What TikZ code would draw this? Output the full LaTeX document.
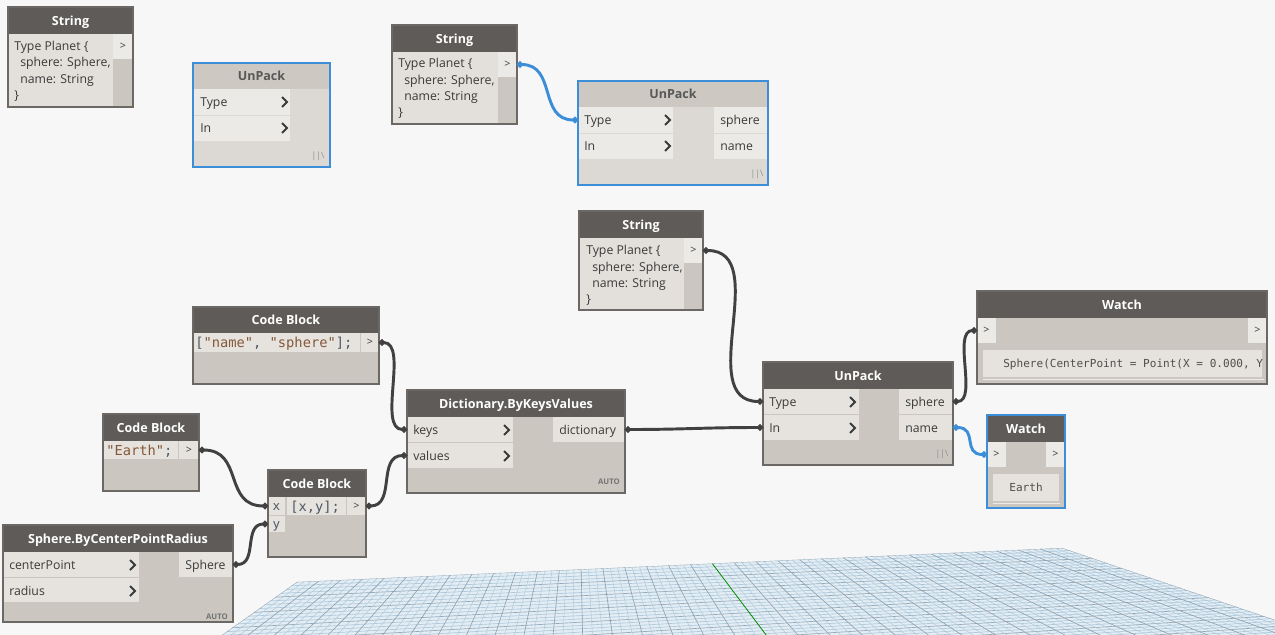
\documentclass[tikz,border=0pt]{standalone}
\usepackage{fontspec}
\setmainfont{Open Sans}
\newfontfamily\monof{DejaVu Sans Mono}
\usetikzlibrary{arrows.meta}
\definecolor{bg}{HTML}{F7F7F7}
\definecolor{hdr}{HTML}{5E5B58}
\definecolor{hdrl}{HTML}{CDC9C2}
\definecolor{body}{HTML}{CBC7C0}
\definecolor{bodyl}{HTML}{DCD9D4}
\definecolor{portl}{HTML}{E6E3DE}
\definecolor{portll}{HTML}{ECEAE6}
\definecolor{txtbg}{HTML}{E3E0DB}
\definecolor{nborder}{HTML}{6B6865}
\definecolor{selblue}{HTML}{3D8ED8}
\definecolor{wirec}{HTML}{414141}
\definecolor{lblc}{HTML}{3A3A3A}
\definecolor{strc}{HTML}{85583A}
\definecolor{punc}{HTML}{4D5966}
\definecolor{gridA}{HTML}{8A9FB0}
\definecolor{gridB}{HTML}{ADCADD}
\definecolor{gridC}{HTML}{93AABB}
\definecolor{gridF}{HTML}{E4EDF3}
\newcommand{\nbox}[6]{\node[#6,anchor=north west,minimum width={(#4-(#2))*0.75pt},minimum height={(#5-(#3))*0.75pt},inner sep=0pt,outer sep=0pt,draw=none] (#1) at (#2,#3) {};}
\newcommand{\chevr}[2]{\draw[chevron] (#1-3,#2-5) -- (#1+2,#2) -- (#1-3,#2+5);}
\newcommand{\nframe}[2]{\draw[#2] (#1.north west) rectangle (#1.south east);}
\tikzset{
  nb/.style={draw=nborder,line width=0.9pt},
  selb/.style={draw=selblue,line width=1.8pt},
  ttl/.style={text=white,font=\bfseries\fontsize{9.4}{10}\selectfont,inner sep=0pt,text height=6.8pt,text depth=0pt},
  ttll/.style={text=lblc!85,font=\bfseries\fontsize{9.4}{10}\selectfont,inner sep=0pt,text height=6.8pt,text depth=0pt},
  lbl/.style={text=lblc,font=\fontsize{9.2}{11}\selectfont,inner sep=0pt,text height=6.6pt,text depth=0pt,anchor=west},
  code/.style={text=punc,font=\monof\fontsize{10.3}{11}\selectfont,inner sep=0pt,text height=7.3pt,text depth=0pt,anchor=west},
  wtxt/.style={text=lblc!90,font=\monof\fontsize{8.3}{10}\selectfont,inner sep=0pt,text height=6pt,text depth=0pt},
  gt/.style={text=lblc,font=\fontsize{8}{9}\selectfont,inner sep=0pt,text height=5pt,text depth=0pt},
  auto/.style={text=black!55,font=\bfseries\fontsize{5.8}{7}\selectfont,inner sep=0pt,text height=4.2pt,text depth=0pt,anchor=east},
  lace/.style={text=black!45,font=\fontsize{6.5}{7}\selectfont,inner sep=0pt,text height=4.8pt,text depth=0pt},
  chevron/.style={draw=lblc,line width=1.5pt},
  wire/.style={draw=wirec,line width=2.2pt,arrows={Circle[length=4.5pt]-Circle[length=4.5pt]}},
  bwire/.style={draw=selblue,line width=2.2pt,arrows={Circle[length=4.5pt]-Circle[length=4.5pt]}},
}
\begin{document}
\begin{tikzpicture}[x=0.75pt,y=-0.75pt]
\fill[bg] (0,0) rectangle (1275,635);
\useasboundingbox (0,0) rectangle (1275,635);

% ---------- perspective grid ----------
\begin{scope}
\clip (297,582) -- (1062,548) -- (1275,620) -- (1280,640) -- (215,640) -- cycle;
\fill[gridF] (200,540) rectangle (1280,640);
\foreach \k in {0,...,40}{
  \pgfmathsetmacro{\ya}{586.3+3.6*\k}
  \pgfmathsetmacro{\yb}{384+(\ya-384)*0.764}
  \pgfmathtruncatemacro{\m}{mod(\k,4)}
  \ifnum\m=0
    \draw[gridC,line width=0.5pt] (200,\ya) -- (1275,\yb);
  \else
    \draw[gridB,line width=0.5pt] (200,\ya) -- (1275,\yb);
  \fi
}
\foreach \i in {0,...,105}{
  \pgfmathsetmacro{\px}{297+\i*7.2857}
  \pgfmathsetmacro{\py}{582-\i*0.3238}
  \pgfmathsetmacro{\tq}{(640-384)/(\py-384)}
  \pgfmathsetmacro{\ex}{577+\tq*(\px-577)}
  \pgfmathtruncatemacro{\m}{mod(\i,3)}
  \ifnum\i=57
    \draw[green!55!black,line width=0.6pt] (\px,\py) -- (\ex,640);
  \else
    \ifnum\m=0
      \draw[gridA,line width=0.45pt] (\px,\py) -- (\ex,640);
    \else
      \draw[gridB,line width=0.35pt] (\px,\py) -- (\ex,640);
    \fi
  \fi
}
\end{scope}

% ---------- String 1 ----------
\nbox{s1}{8}{7}{133}{107}{fill=body}
\nbox{s1h}{8}{7}{133}{34}{fill=hdr}
\nbox{s1t}{8}{34}{113}{107}{fill=txtbg}
\nbox{s1o}{113}{34}{133}{59}{fill=portll}
\nframe{s1}{nb}
\node[ttl] at (s1h) {String};
\node[lbl] at (14,46) {Type Planet \{};
\node[lbl] at (20,62.5) {sphere: Sphere,};
\node[lbl] at (20,79) {name: String};
\node[lbl] at (14,95) {\}};
\node[gt] at (s1o) {>};

% ---------- UnPack 1 ----------
\nbox{u1}{193}{63}{330}{167}{fill=bodyl}
\nbox{u1h}{193}{63}{330}{89}{fill=hdrl}
\nbox{u1type}{193}{89}{290}{115}{fill=portll}
\nbox{u1in}{193}{116}{290}{141}{fill=portll}
\nframe{u1}{selb}
\node[ttll] at (u1h) {UnPack};
\node[lbl] at (200,102) {Type};
\node[lbl] at (200,128) {In};
\chevr{285}{102}
\chevr{285}{128}
\node[lace] at (318,155) {||\textbackslash};

% ---------- String 2 ----------
\nbox{s2}{392}{25}{517}{124}{fill=body}
\nbox{s2h}{392}{25}{517}{52}{fill=hdr}
\nbox{s2t}{392}{52}{498}{124}{fill=txtbg}
\nbox{s2o}{498}{52}{517}{77}{fill=portll}
\nframe{s2}{nb}
\node[ttl] at (s2h) {String};
\node[lbl] at (398,63.5) {Type Planet \{};
\node[lbl] at (404,80) {sphere: Sphere,};
\node[lbl] at (404,96.5) {name: String};
\node[lbl] at (398,112.5) {\}};
\node[gt] at (s2o) {>};

% ---------- UnPack 2 ----------
\nbox{u2}{578}{81}{768}{185}{fill=bodyl}
\nbox{u2h}{578}{81}{768}{107}{fill=hdrl}
\nbox{u2type}{578}{107}{673}{133}{fill=portll}
\nbox{u2in}{578}{134}{673}{159}{fill=portll}
\nbox{u2sphere}{714}{107}{768}{133}{fill=portll}
\nbox{u2name}{714}{134}{768}{159}{fill=portll}
\nframe{u2}{selb}
\node[ttll] at (u2h) {UnPack};
\node[lbl] at (584,120) {Type};
\node[lbl] at (584,146) {In};
\chevr{668}{120}
\chevr{668}{146}
\node[lbl] at (720,120) {sphere};
\node[lbl] at (720,146) {name};
\node[lace] at (757,173) {||\textbackslash};

% ---------- String 3 ----------
\nbox{s3}{579}{211}{703}{310}{fill=body}
\nbox{s3h}{579}{211}{703}{238}{fill=hdr}
\nbox{s3t}{579}{238}{684}{310}{fill=txtbg}
\nbox{s3o}{684}{238}{703}{263}{fill=portll}
\nframe{s3}{nb}
\node[ttl] at (s3h) {String};
\node[lbl] at (586,250) {Type Planet \{};
\node[lbl] at (592,267) {sphere: Sphere,};
\node[lbl] at (592,283) {name: String};
\node[lbl] at (586,299) {\}};
\node[gt] at (s3o) {>};

% ---------- UnPack 3 ----------
\nbox{u3}{763}{362}{953}{465}{fill=body}
\nbox{u3h}{763}{362}{953}{389}{fill=hdr}
\nbox{u3type}{763}{389}{859}{414}{fill=portl}
\nbox{u3in}{763}{415}{859}{440}{fill=portl}
\nbox{u3sphere}{899}{389}{953}{414}{fill=portl}
\nbox{u3name}{899}{415}{953}{440}{fill=portl}
\nframe{u3}{nb}
\node[ttl] at (u3h) {UnPack};
\node[lbl] at (769,402) {Type};
\node[lbl] at (769,428) {In};
\chevr{853}{402}
\chevr{853}{428}
\node[lbl] at (905,402) {sphere};
\node[lbl] at (905,428) {name};
\node[lace] at (942,453) {||\textbackslash};

% ---------- Dictionary.ByKeysValues ----------
\nbox{d}{407}{390}{625}{493}{fill=body}
\nbox{dh}{407}{390}{625}{417}{fill=hdr}
\nbox{dkeys}{407}{417}{513}{442}{fill=portl}
\nbox{dvalues}{407}{443}{513}{468}{fill=portl}
\nbox{dout}{553}{417}{625}{442}{fill=portl}
\nframe{d}{nb}
\node[ttl] at (dh) {Dictionary.ByKeysValues};
\node[lbl] at (413,430) {keys};
\node[lbl] at (413,456) {values};
\chevr{507}{430}
\chevr{507}{456}
\node[lbl] at (559,430) {dictionary};
\node[auto] at (620,482) {AUTO};

% ---------- Code Block 1 ----------
\nbox{c1}{193}{307}{379}{384}{fill=body}
\nbox{c1h}{193}{307}{379}{333}{fill=hdr}
\nbox{c1code}{193}{333}{360}{352}{fill=portl}
\nbox{c1o}{361}{333}{379}{352}{fill=portl}
\nframe{c1}{nb}
\node[ttl] at (c1h) {Code Block};
\node[code] at (195,342.5) {[\textcolor{strc}{"name"}, \textcolor{strc}{"sphere"}];};
\node[gt] at (c1o) {>};

% ---------- Code Block 2 ----------
\nbox{c2}{103}{414}{199}{491}{fill=body}
\nbox{c2h}{103}{414}{199}{441}{fill=hdr}
\nbox{c2code}{103}{441}{178}{459}{fill=portl}
\nbox{c2o}{179}{441}{199}{459}{fill=portl}
\nframe{c2}{nb}
\node[ttl] at (c2h) {Code Block};
\node[code] at (106,450.5) {\textcolor{strc}{"Earth"};};
\node[gt] at (c2o) {>};

% ---------- Code Block 3 ----------
\nbox{c3}{268}{470}{366}{557}{fill=body}
\nbox{c3h}{268}{470}{366}{497}{fill=hdr}
\nbox{c3x}{268}{497}{285}{515}{fill=portl}
\nbox{c3y}{268}{516}{285}{532}{fill=portl}
\nbox{c3code}{287}{497}{346}{515}{fill=portl}
\nbox{c3o}{347}{497}{366}{515}{fill=portl}
\nframe{c3}{nb}
\node[ttl] at (c3h) {Code Block};
\node[code,anchor=center,font=\monof\fontsize{9.5}{10}\selectfont] at (c3x) {x};
\node[code,anchor=center,font=\monof\fontsize{9.5}{10}\selectfont] at (c3y) {y};
\node[code] at (290,506.5) {[x,y];};
\node[gt] at (c3o) {>};

% ---------- Sphere.ByCenterPointRadius ----------
\nbox{sp}{3}{525}{233}{622}{fill=body}
\nbox{sph}{3}{525}{233}{552}{fill=hdr}
\nbox{spcp}{3}{552}{139}{577}{fill=portl}
\nbox{sprad}{3}{578}{139}{602}{fill=portl}
\nbox{spo}{179}{552}{233}{577}{fill=portl}
\nframe{sp}{nb}
\node[ttl] at (sph) {Sphere.ByCenterPointRadius};
\node[lbl] at (9,565) {centerPoint};
\node[lbl] at (9,591) {radius};
\chevr{133}{565}
\chevr{133}{591}
\node[lbl] at (185,565) {Sphere};
\node[auto] at (228,617) {AUTO};

% ---------- Watch 1 ----------
\nbox{w1}{977}{291}{1267}{384}{fill=body}
\nbox{w1h}{977}{291}{1267}{318}{fill=hdr}
\nbox{w1in}{977}{318}{996}{343}{fill=portll}
\nbox{w1o}{1248}{318}{1267}{343}{fill=portll}
\nbox{w1tb}{983}{350}{1262}{377}{fill=portl}
\draw[portll,line width=1.2pt] (w1tb.south west) ++(0,2.5) -- ++(281,0);
\nframe{w1}{nb}
\node[ttl] at (w1h) {Watch};
\node[gt] at (w1in) {>};
\node[gt] at (w1o) {>};
\node[wtxt,anchor=west] at (1003,363.5) {Sphere(CenterPoint = Point(X = 0.000, Y};

% ---------- Watch 2 ----------
\nbox{w2}{987}{415}{1065}{508}{fill=body}
\nbox{w2h}{987}{415}{1065}{442}{fill=hdr}
\nbox{w2in}{987}{442}{1006}{467}{fill=portll}
\nbox{w2o}{1046}{442}{1065}{467}{fill=portll}
\nbox{w2tb}{993}{474}{1059}{501}{fill=portl}
\draw[portll,line width=1.2pt] (w2tb.south west) ++(0,2.5) -- ++(67,0);
\nframe{w2}{selb}
\node[ttl] at (w2h) {Watch};
\node[gt] at (w2in) {>};
\node[gt] at (w2o) {>};
\node[wtxt] at (w2tb) {Earth};

% ---------- wires ----------
\draw[bwire] (s2o.east) .. controls +(40,0) and +(-40,0) .. (u2type.west);
\draw[wire] (s3o.east) .. controls +(70,0) and +(-70,0) .. (u3type.west);
\draw[wire] (dout.east) .. controls +(60,0) and +(-60,0) .. (u3in.west);
\draw[wire] (u3sphere.east) .. controls +(25,0) and +(-25,0) .. (w1in.west);
\draw[bwire] (u3name.east) .. controls +(25,0) and +(-25,0) .. (w2in.west);
\draw[wire] (c1o.east) .. controls +(30,0) and +(-30,0) .. (dkeys.west);
\draw[wire] (c3o.east) .. controls +(30,0) and +(-30,0) .. (dvalues.west);
\draw[wire] (c2o.east) .. controls +(45,0) and +(-45,0) .. (c3x.west);
\draw[wire] (spo.east) .. controls +(25,0) and +(-25,0) .. (c3y.west);
\end{tikzpicture}
\end{document}
